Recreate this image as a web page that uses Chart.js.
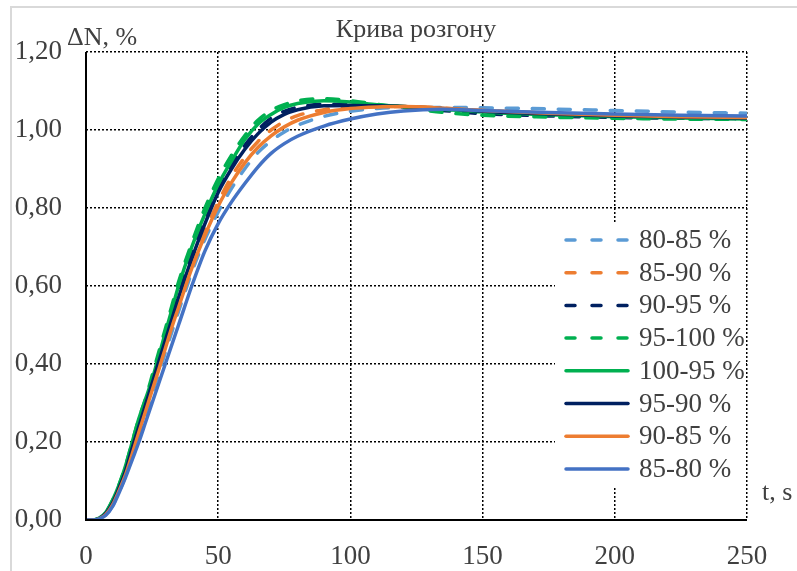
<!DOCTYPE html>
<html>
<head>
<meta charset="utf-8">
<script src="https://cdn.jsdelivr.net/npm/chart.js@4.4.1/dist/chart.umd.min.js"></script>
<style>
  html, body { margin: 0; padding: 0; background: #fff; }
  #wrap { position: relative; width: 797px; height: 571px; }
</style>
</head>
<body>
<div id="wrap"><canvas id="chart" width="797" height="571"></canvas></div>
<script>
// time, s
const times = [0, 2.5, 5, 7.5, 10, 12.5, 15, 17.5, 20, 22.5, 25, 27.5, 30, 32.5, 35, 40, 45, 50, 55, 60, 65, 70, 75, 80, 90, 100, 110, 120, 135, 150, 175, 200, 225, 250];

// ΔN values per transition
const v80_85 = [0, 0, 0.003, 0.013, 0.036, 0.072, 0.113, 0.165, 0.218, 0.27, 0.323, 0.375, 0.43, 0.483, 0.535, 0.635, 0.72, 0.79, 0.85, 0.9, 0.942, 0.972, 0.995, 1.012, 1.035, 1.048, 1.055, 1.058, 1.058, 1.057, 1.054, 1.05, 1.046, 1.043];
const v85_90 = [0, 0, 0.003, 0.015, 0.04, 0.078, 0.12, 0.175, 0.23, 0.285, 0.34, 0.395, 0.45, 0.505, 0.555, 0.655, 0.74, 0.815, 0.88, 0.93, 0.97, 1.0, 1.022, 1.037, 1.052, 1.058, 1.06, 1.06, 1.056, 1.05, 1.043, 1.038, 1.034, 1.032];
const v90_95 = [0, 0, 0.004, 0.018, 0.045, 0.085, 0.13, 0.19, 0.245, 0.3, 0.355, 0.41, 0.465, 0.525, 0.58, 0.68, 0.77, 0.85, 0.91, 0.96, 1.0, 1.03, 1.048, 1.058, 1.066, 1.066, 1.063, 1.06, 1.05, 1.042, 1.036, 1.032, 1.03, 1.029];
const v95_100 = [0, 0, 0.005, 0.02, 0.05, 0.09, 0.14, 0.2, 0.26, 0.31, 0.37, 0.43, 0.49, 0.55, 0.61, 0.71, 0.8, 0.875, 0.935, 0.985, 1.025, 1.05, 1.065, 1.075, 1.08, 1.075, 1.066, 1.058, 1.045, 1.038, 1.033, 1.03, 1.028, 1.027];
const v100_95 = [0, 0, 0.005, 0.02, 0.05, 0.09, 0.14, 0.2, 0.26, 0.31, 0.36, 0.42, 0.48, 0.54, 0.6, 0.7, 0.785, 0.86, 0.92, 0.975, 1.015, 1.04, 1.058, 1.068, 1.075, 1.072, 1.065, 1.06, 1.053, 1.046, 1.039, 1.034, 1.031, 1.028];
const v95_90 = [0, 0, 0.004, 0.017, 0.043, 0.082, 0.127, 0.185, 0.24, 0.295, 0.35, 0.405, 0.46, 0.515, 0.57, 0.67, 0.76, 0.84, 0.9, 0.95, 0.99, 1.02, 1.04, 1.052, 1.062, 1.063, 1.062, 1.06, 1.055, 1.048, 1.041, 1.036, 1.033, 1.031];
const v90_85 = [0, 0, 0.003, 0.014, 0.038, 0.075, 0.117, 0.17, 0.225, 0.278, 0.332, 0.385, 0.44, 0.495, 0.545, 0.645, 0.73, 0.805, 0.865, 0.915, 0.955, 0.985, 1.008, 1.025, 1.045, 1.055, 1.059, 1.06, 1.056, 1.05, 1.043, 1.038, 1.034, 1.032];
const v85_80 = [0, 0, 0.003, 0.012, 0.034, 0.07, 0.11, 0.155, 0.2, 0.25, 0.3, 0.35, 0.4, 0.45, 0.5, 0.6, 0.69, 0.76, 0.815, 0.862, 0.905, 0.94, 0.965, 0.984, 1.01, 1.028, 1.041, 1.049, 1.053, 1.05, 1.045, 1.041, 1.038, 1.036];

const names = ["80-85 %", "85-90 %", "90-95 %", "95-100 %", "100-95 %", "95-90 %", "90-85 %", "85-80 %"];
const seriesValues = [v80_85, v85_90, v90_95, v95_100, v100_95, v95_90, v90_85, v85_80];
const colors = ["#5B9BD5", "#ED7D31", "#002060", "#00B050", "#00B050", "#002060", "#ED7D31", "#4472C4"];
const dashed = [true, true, true, true, false, false, false, false];

const xTicks = [0, 50, 100, 150, 200, 250];
const yTicks = [0, 0.2, 0.4, 0.6, 0.8, 1.0, 1.2];

const SERIF = "'Liberation Serif', 'Times New Roman', serif";
const TEXT = "#404040";

const datasets = names.map((name, i) => ({
  label: name,
  data: times.map((t, k) => ({ x: t, y: seriesValues[i][k] })),
  borderColor: colors[i],
  borderWidth: 3.5,
  borderDash: dashed[i] ? [12, 14] : [],
  borderCapStyle: dashed[i] ? "round" : "butt",
  pointRadius: 0,
  cubicInterpolationMode: "monotone",
  fill: false,
  order: names.length - i  // later series drawn on top
}));

// frame, titles and the legend box
const decor = {
  id: "decor",
  beforeDraw(chart) {
    const ctx = chart.ctx;
    ctx.save();
    ctx.fillStyle = "#fff";
    ctx.fillRect(0, 0, chart.width, chart.height);
    ctx.strokeStyle = "#d9d9d9";
    ctx.lineWidth = 2;
    ctx.strokeRect(11, 7, chart.width + 20, chart.height + 20);
    ctx.restore();
  },
  afterDatasetsDraw(chart) {
    const ctx = chart.ctx;
    const area = chart.chartArea;
    ctx.save();
    // axis lines
    ctx.strokeStyle = "#000";
    ctx.lineWidth = 2;
    ctx.beginPath();
    ctx.moveTo(area.left, area.top);
    ctx.lineTo(area.left, area.bottom);
    ctx.lineTo(area.right, area.bottom);
    ctx.stroke();

    ctx.fillStyle = TEXT;
    ctx.textBaseline = "middle";
    ctx.font = "26px " + SERIF;
    ctx.textAlign = "center";
    ctx.fillText("Крива розгону", 416, 30);
    ctx.textAlign = "left";
    ctx.fillText("ΔN, %", 67, 38);
    ctx.fillText("t, s", 762, 493);

    // legend
    ctx.fillStyle = "#fff";
    ctx.fillRect(555, 223, 190, 264);
    const rowY0 = 240, rowH = 32.7;
    names.forEach((name, i) => {
      const y = rowY0 + i * rowH;
      ctx.strokeStyle = colors[i];
      ctx.lineWidth = 3.5;
      ctx.lineCap = "round";
      ctx.setLineDash(dashed[i] ? [9, 17] : []);
      ctx.beginPath();
      ctx.moveTo(566, y);
      ctx.lineTo(628, y);
      ctx.stroke();
      ctx.setLineDash([]);
      ctx.fillStyle = TEXT;
      ctx.font = "27px " + SERIF;
      ctx.fillText(name, 639, y + 1);
    });
    ctx.restore();
  }
};

new Chart(document.getElementById("chart"), {
  type: "line",
  data: { datasets },
  options: {
    responsive: false,
    animation: false,
    layout: { padding: { left: 0, right: 50, top: 52, bottom: 0 } },
    plugins: {
      legend: { display: false },
      title: { display: false },
      tooltip: { enabled: false }
    },
    scales: {
      x: {
        type: "linear",
        min: 0,
        max: 250,
        afterBuildTicks: (scale) => { scale.ticks = xTicks.map(v => ({ value: v })); },
        afterFit: (scale) => { scale.height = 51; },
        border: { display: false, dash: [2, 2] },
        grid: { color: "#000", lineWidth: 1.5, drawTicks: false },
        ticks: { color: TEXT, font: { family: SERIF, size: 27 }, padding: 21, maxRotation: 0 }
      },
      y: {
        min: 0,
        max: 1.2,
        afterBuildTicks: (scale) => { scale.ticks = yTicks.map(v => ({ value: v })); },
        afterFit: (scale) => { scale.width = 86; },
        border: { display: false, dash: [2, 2] },
        grid: { color: "#000", lineWidth: 1.5, drawTicks: false },
        ticks: {
          color: TEXT,
          font: { family: SERIF, size: 27 },
          padding: 24,
          callback: (v) => v.toFixed(2).replace(".", ",")
        }
      }
    }
  },
  plugins: [decor]
});
</script>
</body>
</html>
